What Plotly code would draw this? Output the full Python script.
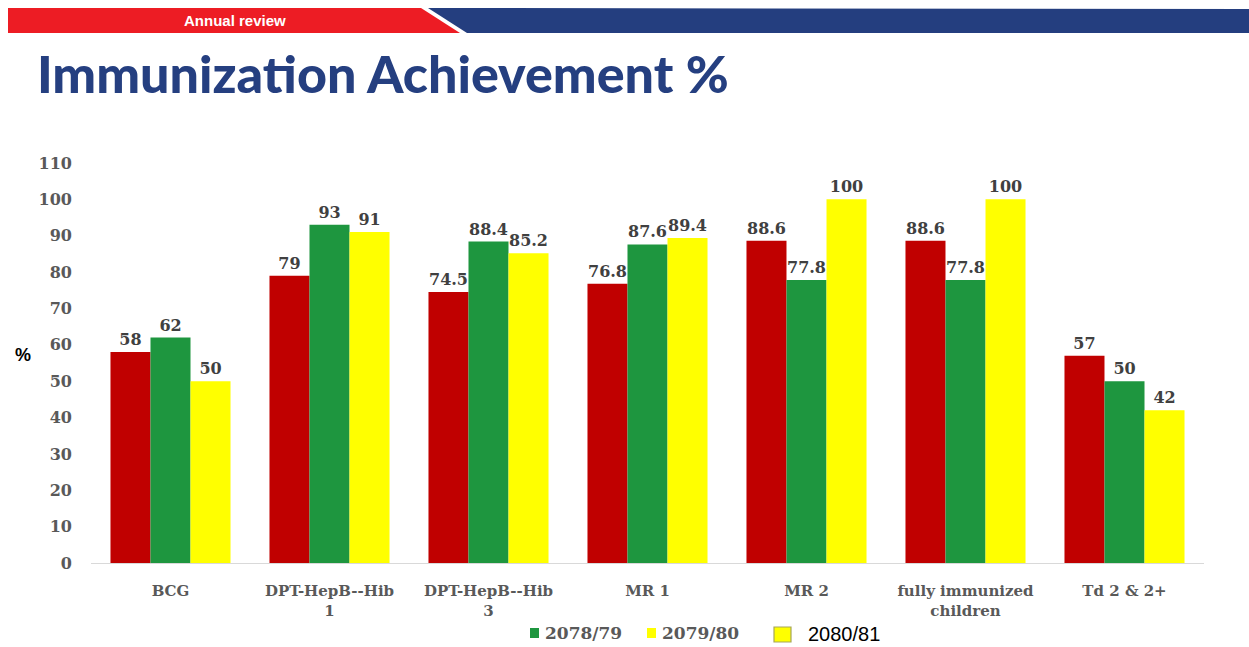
import plotly.graph_objects as go

categories = ["BCG", "DPT-HepB--Hib<br>1", "DPT-HepB--Hib<br>3", "MR 1", "MR 2",
              "fully immunized<br>children", "Td 2 & 2+"]
series_red = [58, 79, 74.5, 76.8, 88.6, 88.6, 57]
series_2078 = [62, 93, 88.4, 87.6, 77.8, 77.8, 50]
series_2079 = [50, 91, 85.2, 89.4, 100, 100, 42]
legend_names = ["2078/79", "2079/80", "2080/81"]
y_ticks = list(range(0, 111, 10))

W, H = 1249, 647
L, R, T, B = 91, 1204, 163, 563


def px(x):
    return (x - L) / (R - L)


def py(y):
    return (B - y) / (B - T)


serif = "DejaVu Serif"
RED, GREEN, YELLOW = "#C00000", "#1E963F", "#FFFF00"
lab_font = dict(family=serif, size=16, color="#404040", weight="bold")

fig = go.Figure()
for name, vals, col in [("red", series_red, RED),
                        (legend_names[0], series_2078, GREEN),
                        (legend_names[1], series_2079, YELLOW)]:
    fig.add_trace(go.Bar(
        x=categories, y=vals, name=name, showlegend=False,
        marker=dict(color=col, line=dict(width=0)),
        text=[f"{v:g}" for v in vals], textposition="outside",
        textfont=lab_font, constraintext="none", cliponaxis=False,
    ))

shapes = [
    # header red band
    dict(type="path", xref="paper", yref="paper", layer="above",
         path=f"M {px(8)},{py(8)} L {px(421)},{py(8)} L {px(460)},{py(33)} L {px(8)},{py(33)} Z",
         fillcolor="#ED1C24", line=dict(width=0)),
    # header blue band
    dict(type="path", xref="paper", yref="paper", layer="above",
         path=f"M {px(428)},{py(8)} L {px(1249)},{py(9)} L {px(1249)},{py(33)} L {px(467)},{py(33)} Z",
         fillcolor="#243E7F", line=dict(width=0)),
    # legend swatches
    dict(type="rect", xref="paper", yref="paper",
         x0=px(530), x1=px(539), y0=py(638), y1=py(628),
         fillcolor=GREEN, line=dict(width=0)),
    dict(type="rect", xref="paper", yref="paper",
         x0=px(647), x1=px(656), y0=py(638), y1=py(628),
         fillcolor=YELLOW, line=dict(width=0)),
    dict(type="rect", xref="paper", yref="paper",
         x0=px(774), x1=px(791), y0=py(642), y1=py(627),
         fillcolor=YELLOW, line=dict(color="#A6A65A", width=1.2)),
]

leg_font = dict(family=serif, size=17, color="#595959", weight="bold")
annotations = [
    dict(text="Annual review", xref="paper", yref="paper", x=px(235), y=py(20),
         showarrow=False, xanchor="center", yanchor="middle",
         font=dict(family="Liberation Sans Narrow, Liberation Sans", size=15,
                   color="white", weight="bold")),
    dict(text="Immunization Achievement %", xref="paper", yref="paper",
         x=px(35), y=py(73), showarrow=False, xanchor="left", yanchor="middle",
         font=dict(family="Lato", size=52, color="#253F80", weight=900)),
    dict(text="%", xref="paper", yref="paper", x=px(23), y=py(355),
         showarrow=False, xanchor="center", yanchor="middle",
         font=dict(family="Liberation Sans", size=18, color="black", weight="bold")),
    dict(text=legend_names[0], xref="paper", yref="paper", x=px(543), y=py(633),
         showarrow=False, xanchor="left", yanchor="middle", font=leg_font),
    dict(text=legend_names[1], xref="paper", yref="paper", x=px(660), y=py(633),
         showarrow=False, xanchor="left", yanchor="middle", font=leg_font),
    dict(text=legend_names[2], xref="paper", yref="paper", x=px(806), y=py(634),
         showarrow=False, xanchor="left", yanchor="middle",
         font=dict(family="Liberation Sans", size=20, color="black")),
]

fig.update_layout(
    width=W, height=H,
    margin=dict(l=L, r=W - R, t=T, b=H - B, autoexpand=False),
    paper_bgcolor="white", plot_bgcolor="white",
    barmode="group", bargap=0.245, bargroupgap=0,
    shapes=shapes, annotations=annotations,
    showlegend=False,
    xaxis=dict(showgrid=False, showline=True, linecolor="#D9D9D9", linewidth=1,
               ticks="", tickfont=dict(family=serif, size=15, color="#595959", weight="bold"),
               ticklabelstandoff=14),
    yaxis=dict(range=[0, 110], tickvals=y_ticks, showgrid=False, zeroline=False,
               showline=False, ticks="", ticklabelstandoff=18,
               tickfont=dict(family=serif, size=16, color="#595959", weight="bold")),
)

fig.write_html("out.html", config={"displayModeBar": False},
               post_script="document.body.style.margin='0';document.body.style.overflow='hidden';")
